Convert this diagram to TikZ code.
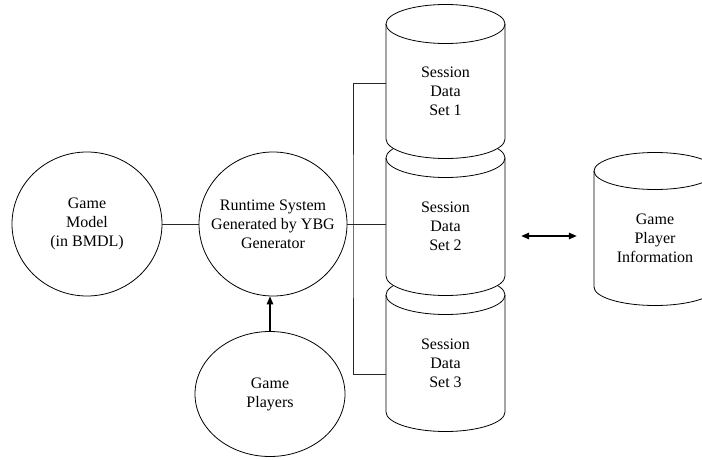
\documentclass[tikz,border=0pt]{standalone}
\usepackage{fontspec}
\setmainfont{Liberation Serif}
\usetikzlibrary{shapes.geometric,arrows.meta,calc}
\tikzset{
  outline/.style={draw=black, line width=0.8pt},
  txt/.style={align=center, font=\fontsize{16}{19}\selectfont},
  bubble/.style={outline, ellipse, inner sep=0pt},
  drumlabel/.style={txt, inner sep=0pt, rectangle, minimum width=119pt},
  wire/.style={draw=black!85, line width=0.9pt},
  tip/.style={line width=1.4pt, -{Triangle[length=8pt,width=6.5pt]}},
  bothtips/.style={line width=1.4pt, {Triangle[length=8pt,width=6.5pt]}-{Triangle[length=8pt,width=6.5pt]}}
}
% database drum: centre x, top ellipse centre y, bottom ellipse centre y, x radius, y radius
\newcommand\drawdrum[5]{%
  \filldraw[outline, fill=white] ({#1-#4},#2) -- ({#1-#4},#3)
    arc[start angle=180, end angle=360, x radius=#4pt, y radius=#5pt]
    -- ({#1+#4},#2)
    arc[start angle=0, end angle=180, x radius=#4pt, y radius=#5pt] -- cycle;
  \draw[outline] ({#1-#4},#2)
    arc[start angle=180, end angle=360, x radius=#4pt, y radius=#5pt];
}
\begin{document}
\begin{tikzpicture}[x=1pt,y=1pt]
\path[use as bounding box, clip] (0,0) rectangle (702,459);

% process circles
\node[bubble, minimum width=150pt, minimum height=144pt,
      label={[txt]center:Game\\Model\\(in BMDL)}] (gm) at (87,235) {};
\node[bubble, minimum width=148pt, minimum height=144pt,
      label={[txt]center:Runtime System\\Generated by YBG\\Generator}] (rt) at (273,235) {};
\node[bubble, minimum width=150pt, minimum height=125pt,
      label={[txt]center:Game\\Players}] (gp) at (270,65) {};

% session data stores (lowest first so each upper drum overlaps the one below)
\drawdrum{445.5}{164}{47}{59.5}{19.5}
\drawdrum{445.5}{301}{183}{59.5}{19.5}
\drawdrum{445.5}{435}{320}{59.5}{19.5}
\node[drumlabel, minimum height=97.5pt] (s3) at (445.5,95.75) {Session\\Data\\Set 3};
\node[drumlabel, minimum height=98.5pt] (s2) at (445.5,232.25) {Session\\Data\\Set 2};
\node[drumlabel, minimum height=95.5pt] (s1) at (445.5,367.75) {Session\\Data\\Set 1};

% player information store
\drawdrum{655}{288}{172}{61}{18.5}
\node[drumlabel, minimum width=122pt, minimum height=97.5pt] (gpi) at (655,220.75) {Game\\Player\\Information};

% connectors
\coordinate (bus) at (353,235);
\draw[wire] (gm.east) -- (rt.west);
\draw[wire] (rt.east) -- (s2.west |- rt.east);
\draw[wire] ([yshift=8pt]s1.west) -| (bus) |- ([yshift=-10.75pt]s3.west);
\draw[tip] (gp.north) -- (gp.north |- rt.south);
\coordinate (al) at ([xshift=16pt]s2.east |- 0,223);
\coordinate (ar) at ([xshift=-17pt]gpi.west |- 0,223);
\draw[bothtips] (al) -- (ar);
\end{tikzpicture}
\end{document}
